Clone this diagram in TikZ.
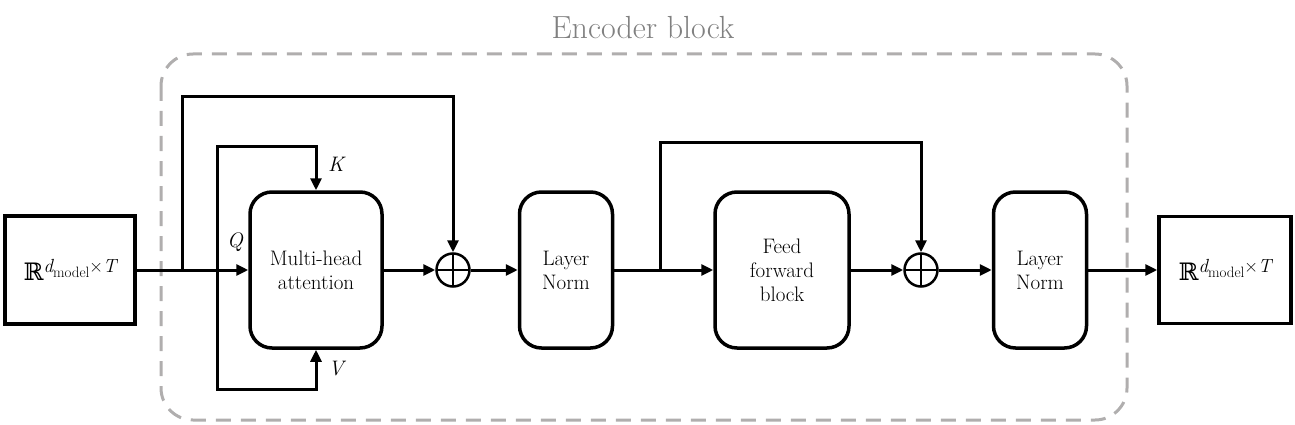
\documentclass[tikz,border=0pt]{standalone}
\usepackage{fontspec}
\newfontfamily\rfont{DejaVu Serif}
\usetikzlibrary{arrows.meta}
\definecolor{dashgray}{HTML}{B0AEAE}
\definecolor{titlegray}{HTML}{808080}
\tikzset{
  blockbox/.style={draw, line width=3.5pt, inner sep=0pt, align=center, font=\fontsize{21}{24}\selectfont},
  rbox/.style={blockbox, rounded corners=22pt},
  conn/.style={line width=3pt, -{Triangle[length=12pt,width=11pt]}},
  plusnode/.style={circle, draw, line width=2.5pt, minimum size=33pt, inner sep=0pt,
    path picture={\draw[line width=2.5pt] (path picture bounding box.north) -- (path picture bounding box.south)
      (path picture bounding box.west) -- (path picture bounding box.east);}},
  lab/.style={font=\fontsize{21}{24}\selectfont\itshape},
}
\newcommand{\spacelabel}{{\fontsize{24}{27}\selectfont{\rfont ℝ}}\raisebox{8pt}{\fontsize{19}{21}\selectfont\itshape d\raisebox{-5pt}{\upshape\fontsize{15}{17}\selectfont model}\upshape ×\itshape T}}
\begin{document}
\begin{tikzpicture}[x=1pt,y=-1pt]
\useasboundingbox (0,0) rectangle (1295,425);
% encoder frame
\draw[dashgray, line width=3pt, dash pattern=on 15pt off 10pt, rounded corners=32pt] (161,54) rectangle (1127,420);
\node[titlegray, font=\fontsize{32}{36}\selectfont] (title) at (643,28) {Encoder block};
% nodes
\node[blockbox, minimum width=130pt, minimum height=108pt] (in) at (70,270) {\spacelabel};
\node[rbox, minimum width=132pt, minimum height=156pt] (mha) at (316,270) {Multi-head\\attention};
\node[plusnode] (c1) at (453,270) {};
\node[rbox, minimum width=93pt, minimum height=156pt] (ln1) at (566,270) {Layer\\Norm};
\node[rbox, minimum width=134pt, minimum height=156pt] (ff) at (782,270) {Feed\\forward\\block};
\node[plusnode] (c2) at (921,270) {};
\node[rbox, minimum width=93pt, minimum height=156pt] (ln2) at (1040,270) {Layer\\Norm};
\node[blockbox, minimum width=132pt, minimum height=107pt] (out) at (1225,270) {\spacelabel};
% labels
\node[lab] (q) at (235,242) {Q};
\node[lab] (k) at (336,164) {K};
\node[lab] (v) at (336,369) {V};
% coordinates
\coordinate (s1) at (182,270);
\coordinate (t1) at (182,97);
\coordinate (s2) at (217,270);
\coordinate (kt) at (217,146);
\coordinate (vb) at (217,389);
\coordinate (s3) at (660,270);
\coordinate (t3) at (660,142);
% connectors
\draw[conn] (in.east) -- (mha.west);
\draw[conn] (s1) -- (t1) -| (c1.north);
\draw[conn] (s2) -- (kt) -| (mha.north);
\draw[conn] (s2) -- (vb) -| (mha.south);
\draw[conn] (mha.east) -- (c1.west);
\draw[conn] (c1.east) -- (ln1.west);
\draw[conn] (ln1.east) -- (ff.west);
\draw[conn] (s3) -- (t3) -| (c2.north);
\draw[conn] (ff.east) -- (c2.west);
\draw[conn] (c2.east) -- (ln2.west);
\draw[conn] (ln2.east) -- (out.west);
\end{tikzpicture}
\end{document}
